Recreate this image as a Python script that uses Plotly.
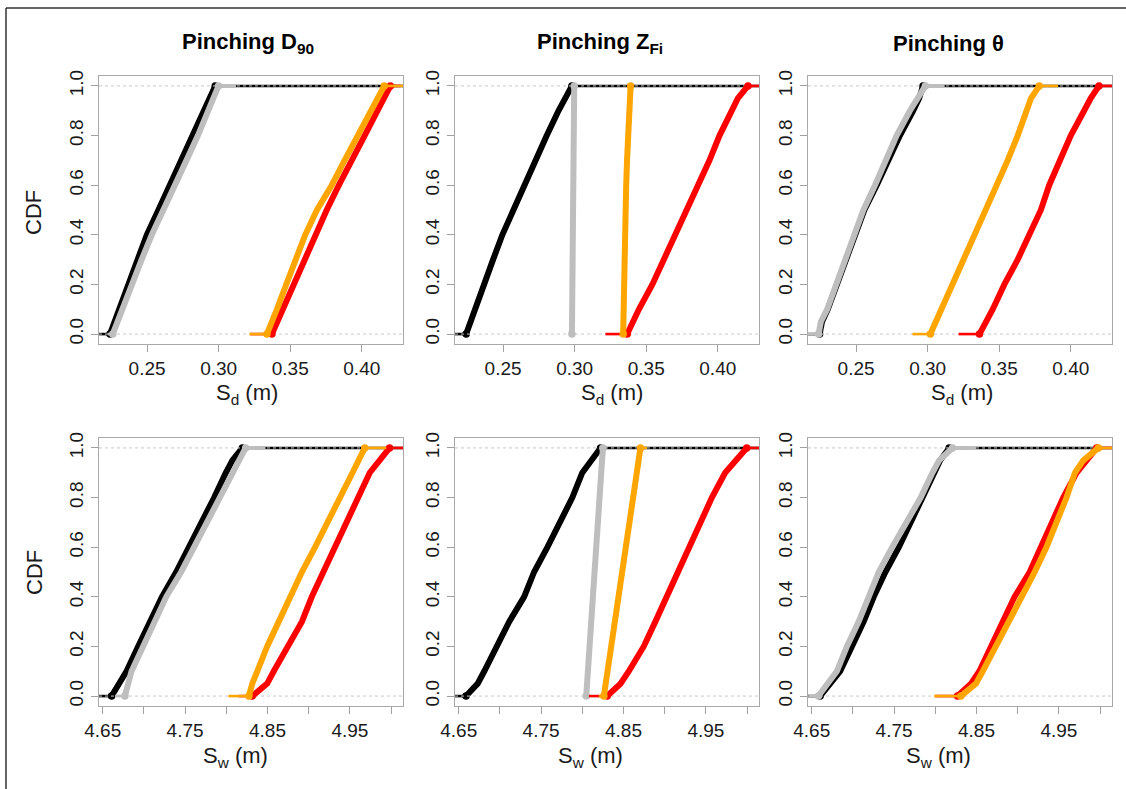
import plotly.graph_objects as go

# ---------------- data ----------------
LEVELS = [0.0, 0.05, 0.1, 0.2, 0.3, 0.4, 0.5, 0.6, 0.7, 0.8, 0.9, 0.95, 1.0]

SD_RANGE = [0.2164, 0.4288]
SW_RANGE = [4.6455, 5.0145]
CDF_RANGE = [-0.04, 1.04]

SD_TICKS = [0.25, 0.30, 0.35, 0.40]
SD_TICKTEXT = ["0.25", "0.30", "0.35", "0.40"]
SW_TICKS = [4.65, 4.75, 4.85, 4.95]
SW_TICKTEXT = ["4.65", "4.75", "4.85", "4.95"]
SW_MINOR_TICKS = [4.70, 4.80, 4.90, 5.00]
CDF_TICKS = [0.0, 0.2, 0.4, 0.6, 0.8, 1.0]
CDF_TICKTEXT = ["0.0", "0.2", "0.4", "0.6", "0.8", "1.0"]

TITLES = ["<b>Pinching D<sub>90</sub></b>", "<b>Pinching Z<sub>Fi</sub></b>", "<b>Pinching \u03b8</b>"]

# Panel 1: Pinching D90, S_d
P1_BLACK = [0.2241, 0.2272, 0.2304, 0.2369, 0.2432, 0.2498, 0.2579, 0.2660, 0.2742, 0.2819, 0.2899, 0.2940, 0.2976]
P1_GRAY = [0.2260, 0.2292, 0.2325, 0.2393, 0.2462, 0.2533, 0.2610, 0.2695, 0.2775, 0.2855, 0.2930, 0.2968, 0.2999]
P1_RED = [0.3372, 0.3410, 0.3450, 0.3523, 0.3600, 0.3675, 0.3755, 0.3840, 0.3935, 0.4020, 0.4110, 0.4160, 0.4200]
P1_ORANGE = [0.3337, 0.3375, 0.3407, 0.3472, 0.3540, 0.3605, 0.3687, 0.3790, 0.3880, 0.3975, 0.4065, 0.4115, 0.4157]
P1_GRAY_EXT = [0.2225, 0.3122]
P1_RED_EXT = [0.3220, 0.4270]
P1_ORANGE_EXT = [0.3216, 0.4288]

# Panel 2: Pinching Z_Fi, S_d
P2_BLACK = [0.2242, 0.2275, 0.2308, 0.2371, 0.2430, 0.2495, 0.2570, 0.2648, 0.2723, 0.2805, 0.2887, 0.2935, 0.2981]
P2_GRAY = [0.2981, 0.2982, 0.2983, 0.2984, 0.2986, 0.2987, 0.2989, 0.2990, 0.2992, 0.2993, 0.2995, 0.2996, 0.2997]
P2_RED = [0.3367, 0.3405, 0.3449, 0.3543, 0.3625, 0.3707, 0.3789, 0.3871, 0.3942, 0.4012, 0.4094, 0.4140, 0.4211]
P2_ORANGE = [0.3339, 0.3340, 0.3342, 0.3344, 0.3347, 0.3350, 0.3355, 0.3360, 0.3366, 0.3373, 0.3380, 0.3385, 0.3391]
P2_GRAY_EXT = [0.2975, 0.3003]
P2_RED_EXT = [0.3215, 0.4288]
P2_ORANGE_EXT = [0.3320, 0.3405]

# Panel 3: Pinching theta, S_d
P3_BLACK = [0.2245, 0.2262, 0.2302, 0.2364, 0.2424, 0.2486, 0.2558, 0.2644, 0.2725, 0.2806, 0.2899, 0.2940, 0.2968]
P3_GRAY = [0.2238, 0.2254, 0.2298, 0.2361, 0.2420, 0.2481, 0.2551, 0.2632, 0.2708, 0.2783, 0.2876, 0.2930, 0.2984]
P3_RED = [0.3362, 0.3410, 0.3455, 0.3536, 0.3629, 0.3710, 0.3791, 0.3849, 0.3919, 0.4000, 0.4093, 0.4139, 0.4197]
P3_ORANGE = [0.3019, 0.3058, 0.3096, 0.3177, 0.3253, 0.3328, 0.3409, 0.3483, 0.3559, 0.3629, 0.3687, 0.3722, 0.3780]
P3_GRAY_EXT = [0.2164, 0.3119]
P3_RED_EXT = [0.3216, 0.4288]
P3_ORANGE_EXT = [0.2894, 0.3912]

# Panel 4: Pinching D90, S_w
P4_BLACK = [4.6608, 4.6697, 4.6789, 4.6930, 4.7070, 4.7219, 4.7392, 4.7552, 4.7713, 4.7853, 4.7994, 4.8074, 4.8195]
P4_GRAY = [4.6769, 4.6809, 4.6850, 4.6990, 4.7131, 4.7271, 4.7452, 4.7612, 4.7765, 4.7914, 4.8074, 4.8155, 4.8235]
P4_RED = [4.8315, 4.8496, 4.8576, 4.8757, 4.8918, 4.9038, 4.9179, 4.9319, 4.9460, 4.9600, 4.9741, 4.9861, 4.9982]
P4_ORANGE = [4.8275, 4.8315, 4.8376, 4.8496, 4.8637, 4.8777, 4.8918, 4.9078, 4.9239, 4.9380, 4.9532, 4.9600, 4.9681]
P4_GRAY_EXT = [4.6650, 4.8476]
P4_RED_EXT = [4.8150, 5.0145]
P4_ORANGE_EXT = [4.8026, 4.9942]

# Panel 5: Pinching Z_Fi, S_w
P5_BLACK = [4.6589, 4.6730, 4.6810, 4.6952, 4.7113, 4.7294, 4.7415, 4.7577, 4.7738, 4.7879, 4.8000, 4.8101, 4.8222]
P5_GRAY = [4.8048, 4.8058, 4.8068, 4.8088, 4.8109, 4.8129, 4.8149, 4.8169, 4.8189, 4.8210, 4.8230, 4.8240, 4.8250]
P5_RED = [4.8302, 4.8464, 4.8565, 4.8746, 4.8887, 4.9028, 4.9169, 4.9290, 4.9431, 4.9573, 4.9734, 4.9855, 4.9996]
P5_ORANGE = [4.8262, 4.8284, 4.8306, 4.8350, 4.8395, 4.8440, 4.8492, 4.8530, 4.8575, 4.8620, 4.8662, 4.8684, 4.8706]
P5_GRAY_EXT = [4.8020, 4.8282]
P5_RED_EXT = [4.8080, 5.0145]
P5_ORANGE_EXT = [4.8202, 4.8786]

# Panel 6: Pinching theta, S_w
P6_BLACK = [4.6602, 4.6724, 4.6846, 4.6988, 4.7131, 4.7253, 4.7395, 4.7558, 4.7701, 4.7863, 4.7986, 4.8060, 4.8169]
P6_GRAY = [4.6581, 4.6704, 4.6805, 4.6927, 4.7070, 4.7192, 4.7314, 4.7477, 4.7640, 4.7823, 4.7965, 4.8047, 4.8209]
P6_RED = [4.8270, 4.8433, 4.8535, 4.8677, 4.8820, 4.8962, 4.9146, 4.9288, 4.9410, 4.9553, 4.9715, 4.9830, 4.9960]
P6_ORANGE = [4.8311, 4.8494, 4.8576, 4.8738, 4.8881, 4.9044, 4.9207, 4.9349, 4.9471, 4.9593, 4.9695, 4.9797, 4.9980]
P6_GRAY_EXT = [4.6460, 4.8494]
P6_RED_EXT = [4.8000, 5.0145]
P6_ORANGE_EXT = [4.7986, 5.0145]

# ---------------- styling ----------------
W, H = 1126, 789
COL_PX = [(99, 403), (455, 759), (808, 1112)]
ROW_PX = [(76, 344), (438, 706)]
C_BLACK, C_GRAY, C_RED, C_ORANGE = "#000000", "#bebebe", "#ff0000", "#ffa500"
FONT = "Liberation Sans, Arial, sans-serif"

panels = [
    dict(row=0, col=0, rng=SD_RANGE, black=P1_BLACK, gray=P1_GRAY, red=P1_RED, orange=P1_ORANGE,
         gext=P1_GRAY_EXT, rext=P1_RED_EXT, oext=P1_ORANGE_EXT),
    dict(row=0, col=1, rng=SD_RANGE, black=P2_BLACK, gray=P2_GRAY, red=P2_RED, orange=P2_ORANGE,
         gext=P2_GRAY_EXT, rext=P2_RED_EXT, oext=P2_ORANGE_EXT),
    dict(row=0, col=2, rng=SD_RANGE, black=P3_BLACK, gray=P3_GRAY, red=P3_RED, orange=P3_ORANGE,
         gext=P3_GRAY_EXT, rext=P3_RED_EXT, oext=P3_ORANGE_EXT),
    dict(row=1, col=0, rng=SW_RANGE, black=P4_BLACK, gray=P4_GRAY, red=P4_RED, orange=P4_ORANGE,
         gext=P4_GRAY_EXT, rext=P4_RED_EXT, oext=P4_ORANGE_EXT),
    dict(row=1, col=1, rng=SW_RANGE, black=P5_BLACK, gray=P5_GRAY, red=P5_RED, orange=P5_ORANGE,
         gext=P5_GRAY_EXT, rext=P5_RED_EXT, oext=P5_ORANGE_EXT),
    dict(row=1, col=2, rng=SW_RANGE, black=P6_BLACK, gray=P6_GRAY, red=P6_RED, orange=P6_ORANGE,
         gext=P6_GRAY_EXT, rext=P6_RED_EXT, oext=P6_ORANGE_EXT),
]

fig = go.Figure()


def add_ecdf(fig, q, ext, color, xa, ya):
    # horizontal extensions at 0 and 1
    fig.add_trace(go.Scatter(
        x=[ext[0], q[0], None, q[-1], ext[1]], y=[0, 0, None, 1, 1],
        mode="lines", line=dict(color=color, width=2.6),
        xaxis=xa, yaxis=ya, showlegend=False, hoverinfo="skip"))
    # the rising part
    fig.add_trace(go.Scatter(
        x=q, y=LEVELS, mode="lines", line=dict(color=color, width=6),
        xaxis=xa, yaxis=ya, showlegend=False))
    # end points
    fig.add_trace(go.Scatter(
        x=[q[0], q[-1]], y=[LEVELS[0], LEVELS[-1]], mode="markers",
        marker=dict(color=color, size=7.5),
        xaxis=xa, yaxis=ya, showlegend=False, hoverinfo="skip"))


layout_axes = {}
for i, p in enumerate(panels):
    n = i + 1
    xa = "x" if n == 1 else f"x{n}"
    ya = "y" if n == 1 else f"y{n}"
    x0, x1 = COL_PX[p["col"]]
    yt, yb = ROW_PX[p["row"]]
    is_sd = p["row"] == 0

    # black (first plot, extends across the whole plot)
    add_ecdf(fig, p["black"], p["rng"], C_BLACK, xa, ya)
    # dashed reference lines at 0 and 1
    fig.add_trace(go.Scatter(
        x=[p["rng"][0], p["rng"][1], None, p["rng"][0], p["rng"][1]],
        y=[CDF_TICKS[0], CDF_TICKS[0], None, CDF_TICKS[-1], CDF_TICKS[-1]],
        mode="lines", line=dict(color="#c8c8c8", width=1, dash="dot"),
        xaxis=xa, yaxis=ya, showlegend=False, hoverinfo="skip"))
    add_ecdf(fig, p["gray"], p["gext"], C_GRAY, xa, ya)
    add_ecdf(fig, p["red"], p["rext"], C_RED, xa, ya)
    add_ecdf(fig, p["orange"], p["oext"], C_ORANGE, xa, ya)

    axis_common = dict(showgrid=False, zeroline=False, showline=True, mirror=True,
                       automargin=False,
                       linecolor="#a9a9a9", linewidth=1.4, ticks="outside", ticklen=7,
                       tickwidth=1.2, tickcolor="#a0a0a0",
                       tickfont=dict(family=FONT, size=19, color="#1a1a1a"))
    xdict = dict(axis_common, domain=[x0 / W, x1 / W], range=p["rng"], anchor=ya,
                 tickmode="array", tickvals=SD_TICKS if is_sd else SW_TICKS,
                 ticktext=SD_TICKTEXT if is_sd else SW_TICKTEXT)
    if not is_sd:
        xdict["minor"] = dict(tickmode="array", tickvals=SW_MINOR_TICKS, ticks="outside",
                              ticklen=7, tickwidth=1.2, tickcolor="#a0a0a0", showgrid=False)
    layout_axes["xaxis" if n == 1 else f"xaxis{n}"] = xdict
    layout_axes["yaxis" if n == 1 else f"yaxis{n}"] = dict(
        axis_common, domain=[1 - yb / H, 1 - yt / H], range=CDF_RANGE, anchor=xa,
        tickmode="array", tickvals=CDF_TICKS, ticktext=CDF_TICKTEXT, tickangle=-90)

annotations = []
TITLE_X = [248, 600, 948]
for c in range(3):
    annotations.append(dict(text=TITLES[c], x=TITLE_X[c] / W, y=1 - 43 / H, xref="paper", yref="paper",
                            showarrow=False, xanchor="center", yanchor="middle",
                            font=dict(family=FONT, size=22, color="#000")))
SD_LABEL_X = [247, 612, 962]
SW_LABEL_X = [235, 591, 938]
for c in range(3):
    annotations.append(dict(text="S<sub>d</sub> (m)", x=SD_LABEL_X[c] / W, y=1 - 394 / H,
                            xref="paper", yref="paper", showarrow=False, xanchor="center", yanchor="middle",
                            font=dict(family=FONT, size=22, color="#1a1a1a")))
    annotations.append(dict(text="S<sub>w</sub> (m)", x=SW_LABEL_X[c] / W, y=1 - 757 / H,
                            xref="paper", yref="paper", showarrow=False, xanchor="center", yanchor="middle",
                            font=dict(family=FONT, size=22, color="#1a1a1a")))
for yy in (213, 573):
    annotations.append(dict(text="CDF", x=34 / W, y=1 - yy / H, xref="paper", yref="paper",
                            showarrow=False, textangle=-90, xanchor="center", yanchor="middle",
                            font=dict(family=FONT, size=22, color="#1a1a1a")))

shapes = [
    dict(type="line", xref="paper", yref="paper", x0=6 / W, x1=1, y0=1 - 8 / H, y1=1 - 8 / H,
         line=dict(color="#333333", width=1.5)),
    dict(type="line", xref="paper", yref="paper", x0=6 / W, x1=6 / W, y0=0, y1=1 - 8 / H,
         line=dict(color="#333333", width=1.5)),
]

fig.update_layout(
    width=W, height=H, margin=dict(l=0, r=0, t=0, b=0),
    paper_bgcolor="white", plot_bgcolor="white",
    annotations=annotations, shapes=shapes, showlegend=False,
    **layout_axes)

fig.write_html("out.html", config={"displayModeBar": False},
               post_script="document.body.style.margin='0';document.body.style.overflow='hidden';")
